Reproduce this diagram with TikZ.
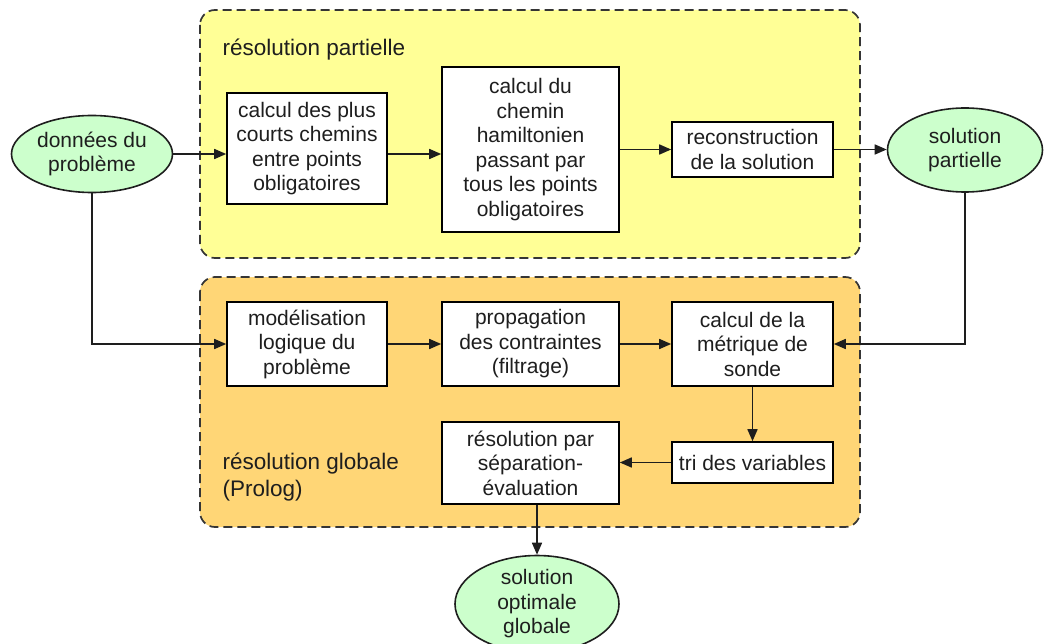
\documentclass[tikz,border=0pt]{standalone}
\usepackage{fontspec}
\setmainfont{Liberation Sans}
\usetikzlibrary{shapes.geometric,arrows.meta}

\definecolor{partfill}{HTML}{FFFF96}
\definecolor{globfill}{HTML}{FFD676}
\definecolor{termfill}{HTML}{CCFFCC}
\definecolor{ink}{HTML}{1E1E1E}

\tikzset{
  basefont/.style={font=\fontsize{21}{24.5}\selectfont, text=ink},
  group/.style={draw=ink!90, line width=1.7pt, dash pattern=on 9pt off 5pt, rounded corners=15pt},
  stepbox/.style={basefont, draw=black, line width=1.6pt, fill=white, align=center,
                  inner sep=0pt},
  term/.style={basefont, ellipse, draw=ink, line width=1.6pt, fill=termfill, align=center,
               inner sep=0pt},
  arr/.style={draw=ink, line width=1.6pt, -{Triangle[length=12pt,width=10pt]}},
  grouplabel/.style={font=\fontsize{22.5}{27}\selectfont, text=ink, anchor=west, align=left},
}

\begin{document}
\begin{tikzpicture}[x=1pt,y=-1pt]
\useasboundingbox (0,0) rectangle (1062,644);

% the two work areas
\draw[group, fill=partfill] (200,10) rectangle (860,258);
\draw[group, fill=globfill] (200,277) rectangle (860,527);
\node[grouplabel] (lpart) at (219,50) {résolution partielle};
\node[grouplabel] (lglob) at (219,477) {résolution globale\\(Prolog)};

% inputs and results
\node[term, minimum width=161pt, minimum height=77pt] (e1) at (92,154) {données du\\problème};
\node[term, minimum width=155pt, minimum height=84pt] (e2) at (965,150) {solution\\partielle};
\node[term, minimum width=164pt, minimum height=82pt] (e3) at (537,604) {solution\\optimale\\globale};

% partial resolution steps
\node[stepbox, minimum width=160pt, minimum height=111pt] (b1) at (307,148.5)
  {calcul des plus\\courts chemins\\entre points\\obligatoires};
\node[stepbox, minimum width=177pt, minimum height=165pt] (b2) at (530.5,149.5)
  {calcul du\\chemin\\hamiltonien\\passant par\\tous les points\\obligatoires};
\node[stepbox, minimum width=161pt, minimum height=55pt] (b3) at (752.5,149.5)
  {reconstruction\\de la solution};

% global resolution steps
\node[stepbox, minimum width=160pt, minimum height=84pt] (b4) at (307,344)
  {modélisation\\logique du\\problème};
\node[stepbox, minimum width=177pt, minimum height=84pt] (b5) at (530.5,344)
  {propagation\\des contraintes\\(filtrage)};
\node[stepbox, minimum width=161pt, minimum height=84pt] (b6) at (752.5,344)
  {calcul de la\\métrique de\\sonde};
\node[stepbox, minimum width=161pt, minimum height=41pt] (b7) at (752.5,462.5)
  {tri des variables};
\node[stepbox, minimum width=177pt, minimum height=82pt] (b8) at (530.5,463)
  {résolution par\\séparation-\\évaluation};

% connectors
\draw[arr] (e1.east) -- (e1.east -| b1.west);
\draw[arr] (b1.east |- e1) -- (b2.west |- e1);
\draw[arr] (b2.east |- b3) -- (b3.west);
\draw[arr] (b3.east) -- (b3.east -| e2.west);
\draw[arr] (e1.south) |- (b4.west);
\draw[arr] (b4.east) -- (b5.west);
\draw[arr] (b5.east) -- (b6.west);
\draw[arr] (e2.south) |- (b6.east);
\draw[arr] (b6.south) -- (b7.north);
\draw[arr] (b7.west) -- (b7.west -| b8.east);
\draw[arr] (b8.south -| e3) -- (e3.north);
\end{tikzpicture}
\end{document}
